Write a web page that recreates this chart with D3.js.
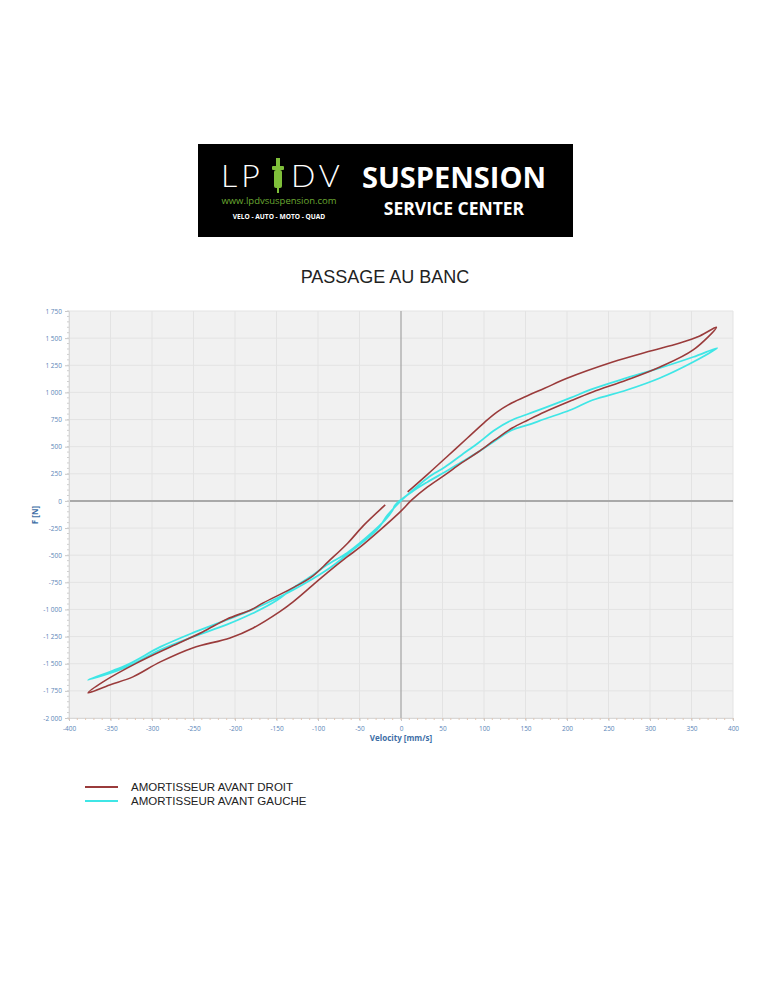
<!DOCTYPE html>
<html><head><meta charset="utf-8">
<script src="https://cdn.jsdelivr.net/npm/d3@7"></script>
<style>
html,body{margin:0;padding:0;background:#fff;}
svg{display:block;}
</style></head>
<body>
<svg id="c" width="771" height="1000"></svg>
<script>
// ---- DATA ----
const title = "PASSAGE AU BANC";
const seriesNames = ["AMORTISSEUR AVANT DROIT", "AMORTISSEUR AVANT GAUCHE"];
const xTicks = [-400,-350,-300,-250,-200,-150,-100,-50,0,50,100,150,200,250,300,350,400];
const yTicks = [-2000,-1750,-1500,-1250,-1000,-750,-500,-250,0,250,500,750,1000,1250,1500,1750];
const xLabel = "Velocity [mm/s]";
const yLabel = "F [N]";
// velocity (mm/s), force (N) along the recorded loop
const droitV = [8,32,55,80,100,116,134,153,173,200,255,296,336,360,380,
                352,312,272,231,204,173,153,134,113,93,73,53,32,13,-1,
                -25,-49,-65,-89,-106,-130,-146,-178,-206,-251,-290,-323,-351,-377,
                -359,-318,-278,-239,-210,-180,-166,-128,-106,-87,-64,-45,-19];
const droitF = [83,245,405,580,720,820,905,972,1038,1130,1280,1372,1455,1520,1600,
                1391,1234,1114,1004,921,820,746,672,562,451,350,240,129,9,-101,
                -267,-424,-516,-663,-774,-930,-1020,-1170,-1262,-1354,-1483,-1621,-1695,-1768,
                -1667,-1492,-1345,-1207,-1090,-1000,-939,-792,-690,-555,-387,-225,-37];
const gaucheV = [1,5,32,53,73,93,113,134,153,173,204,231,272,312,352,381,
                 352,312,272,231,204,173,153,134,113,93,73,53,32,13,-7,
                 -10,-19,-41,-65,-89,-106,-130,-149,-180,-210,-251,-290,-330,-377,
                 -330,-290,-251,-210,-180,-130,-89,-58,-29,-16,1];
const gaucheF = [9,37,212,313,424,534,654,746,801,857,949,1032,1133,1225,1326,1409,
                 1280,1133,1022,930,838,755,700,654,553,451,359,267,175,83,-37,
                 -83,-175,-332,-479,-589,-682,-801,-912,-1040,-1140,-1253,-1372,-1529,-1649,
                 -1510,-1345,-1216,-1096,-1004,-820,-635,-451,-267,-129,9];
const seriesColors = ["#9a3b3b", "#3fe6e6"];

// ---- CHART ----
const svg = d3.select("#c");
const FONT = "'Liberation Sans', Arial, sans-serif";

// Logo
const logo = svg.append("g");
logo.append("rect").attr("x",198).attr("y",144).attr("width",375).attr("height",93).attr("fill","#000");
logo.append("text").attr("x",221).attr("y",187).attr("fill","#fff")
  .attr("font-family","Lato, sans-serif").attr("font-weight",300).attr("font-size",32)
  .attr("letter-spacing",4).text("LP");
logo.append("text").attr("x",291).attr("y",187).attr("fill","#fff")
  .attr("font-family","Lato, sans-serif").attr("font-weight",300).attr("font-size",32)
  .attr("letter-spacing",4).text("DV");
// shock absorber icon
const ic = logo.append("g").attr("fill","#7fbf3a");
ic.append("rect").attr("x",276).attr("y",158).attr("width",4).attr("height",8);
ic.append("rect").attr("x",272).attr("y",166).attr("width",12).attr("height",4).attr("rx",1);
ic.append("rect").attr("x",274).attr("y",170).attr("width",8).attr("height",18).attr("rx",2);
ic.append("rect").attr("x",277).attr("y",188).attr("width",2).attr("height",5);
logo.append("text").attr("x",279).attr("y",204).attr("text-anchor","middle").attr("fill","#6aa832")
  .attr("font-family","'Open Sans', sans-serif").attr("font-size",9.5).text("www.lpdvsuspension.com");
logo.append("text").attr("x",279).attr("y",219).attr("text-anchor","middle").attr("fill","#fff")
  .attr("font-family","'Open Sans', sans-serif").attr("font-weight",700).attr("font-size",6.6).text("VELO - AUTO - MOTO - QUAD");
logo.append("text").attr("x",454).attr("y",188).attr("text-anchor","middle").attr("fill","#fff")
  .attr("font-family","'Open Sans', sans-serif").attr("font-weight",700).attr("font-size",29).text("SUSPENSION");
logo.append("text").attr("x",454).attr("y",215).attr("text-anchor","middle").attr("fill","#fff")
  .attr("font-family","'Open Sans', sans-serif").attr("font-weight",700).attr("font-size",17.5).text("SERVICE CENTER");

// Title
svg.append("text").attr("x",385).attr("y",283).attr("text-anchor","middle")
  .attr("font-family",FONT).attr("font-size",18).attr("fill","#222").text(title);

// Scales
const x = d3.scaleLinear().domain([-400,400]).range([69,733]);
const y = d3.scaleLinear().domain([-2000,1750]).range([718,311]);

// plot background
svg.append("rect").attr("x",x(-400)).attr("y",y(1750)).attr("width",x(400)-x(-400)).attr("height",y(-2000)-y(1750))
  .attr("fill","#f1f1f1");

// grid
const grid = svg.append("g").attr("stroke","#e3e3e3").attr("stroke-width",1);
xTicks.forEach(t=>{ if(t!==0) grid.append("line").attr("x1",x(t)).attr("x2",x(t)).attr("y1",y(1750)).attr("y2",y(-2000)); });
yTicks.forEach(t=>{ if(t!==0) grid.append("line").attr("y1",y(t)).attr("y2",y(t)).attr("x1",x(-400)).attr("x2",x(400)); });

// zero lines
svg.append("line").attr("x1",x(-400)).attr("x2",x(400)).attr("y1",y(0)).attr("y2",y(0)).attr("stroke","#a9a9a9").attr("stroke-width",2);
svg.append("line").attr("x1",x(0)).attr("x2",x(0)).attr("y1",y(1750)).attr("y2",y(-2000)).attr("stroke","#a9a9a9").attr("stroke-width",1.3);

// number format with space thousands
const loc = d3.formatLocale({decimal:".", thousands:" ", grouping:[3], currency:["",""], minus:"-"});
const fmt = loc.format(",d");

// axes
const yAxis = d3.axisLeft(y).tickValues(yTicks).tickFormat(fmt).tickSize(4).tickPadding(3);
const gy = svg.append("g").attr("transform",`translate(${x(-400)},0)`).call(yAxis);
const xAxis = d3.axisBottom(x).tickValues(xTicks).tickFormat(fmt).tickSize(3).tickPadding(5);
const gx = svg.append("g").attr("transform",`translate(0,${y(-2000)})`).call(xAxis);
[gx,gy].forEach(g=>{
  g.select(".domain").attr("stroke","#d8d8d8");
  g.selectAll(".tick line").attr("stroke","#c8c8c8");
  g.selectAll(".tick text").attr("fill","#5a86b8").attr("font-family","'Open Sans', sans-serif").attr("font-size",6.5);
});
// minor ticks
const minY = d3.range(-2000,1751,50), minX = d3.range(-400,401,10);
svg.append("g").selectAll("line").data(minY).join("line")
  .attr("x1",x(-400)-2).attr("x2",x(-400)).attr("y1",d=>y(d)).attr("y2",d=>y(d)).attr("stroke","#cfcfcf");
svg.append("g").selectAll("line").data(minX).join("line")
  .attr("y1",y(-2000)).attr("y2",y(-2000)+2).attr("x1",d=>x(d)).attr("x2",d=>x(d)).attr("stroke","#e0c8b8");

// axis labels
svg.append("text").attr("x",401).attr("y",741).attr("text-anchor","middle")
  .attr("font-family","'Open Sans', sans-serif").attr("font-weight",700).attr("font-size",8).attr("fill","#3d6ea6").text(xLabel);
svg.append("text").attr("transform","translate(38,515) rotate(-90)").attr("text-anchor","middle")
  .attr("font-family","'Open Sans', sans-serif").attr("font-weight",700).attr("font-size",8).attr("fill","#3d6ea6").text(yLabel);

// curves
const line = d3.line().x(d=>x(d[0])).y(d=>y(d[1])).curve(d3.curveCatmullRom.alpha(0.5));
const gauche = gaucheV.map((v,i)=>[v,gaucheF[i]]);
const droit = droitV.map((v,i)=>[v,droitF[i]]);
svg.append("path").datum(gauche).attr("d",line).attr("fill","none").attr("stroke",seriesColors[1]).attr("stroke-width",1.8);
svg.append("path").datum(droit).attr("d",line).attr("fill","none").attr("stroke",seriesColors[0]).attr("stroke-width",1.6);

// legend
const lg = svg.append("g");
seriesNames.forEach((n,i)=>{
  const yy = 787 + i*14;
  lg.append("line").attr("x1",85).attr("x2",118).attr("y1",yy).attr("y2",yy).attr("stroke",seriesColors[i]).attr("stroke-width",1.8);
  lg.append("text").attr("x",131).attr("y",yy+4).attr("font-family",FONT).attr("font-size",11.5).attr("fill","#222").text(n);
});
</script>
</body></html>
